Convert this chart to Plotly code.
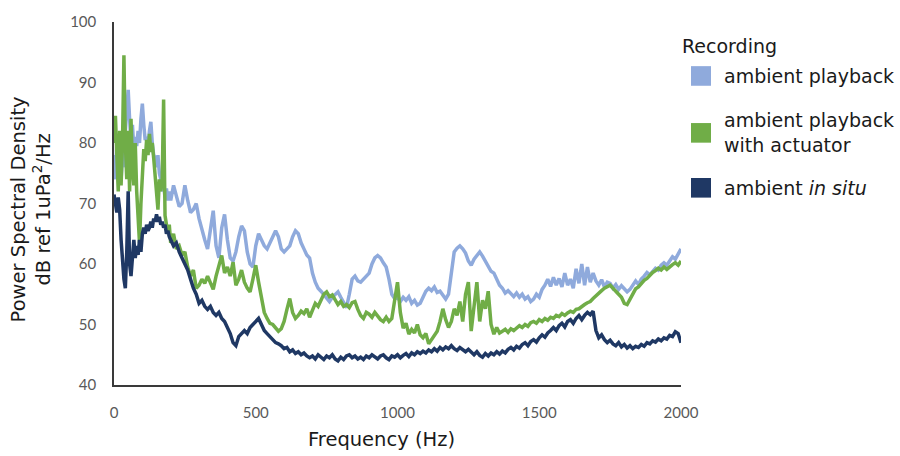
import plotly.graph_objects as go

# Frequency grid: 5 Hz steps below 200 Hz, 10 Hz steps from 200 to 2000 Hz
freq_low = list(range(0, 200, 5))
freq_high = list(range(200, 2001, 10))
freq = freq_low + freq_high

# Power spectral density (dB re 1 uPa^2/Hz)
playback_low = [
    78, 74, 80, 76, 79, 74, 78, 76, 82, 85,
    88.8, 84, 80, 83, 79, 81, 79.5, 82, 80, 84,
    86.5, 83, 80.5, 81, 79.5, 82, 83.5, 80, 78, 77.5,
    76, 78, 75, 74, 72, 73, 71, 72.5, 70.5, 72,
]
playback_high = [
    70.5, 73, 71, 69.5, 70, 73, 70.5, 68.5, 69, 70,
    67.5, 65.5, 64, 62.5, 66, 68.8, 63, 61, 66, 68.2,
    64, 61, 60.5, 62, 64.5, 66.3, 65.5, 62, 60, 59.5,
    63, 65, 64, 63, 62.5, 63.5, 64.5, 65.5, 64.5, 62.5,
    62, 62.5, 63, 64.5, 65.5, 65, 63.5, 62.5, 61.5, 61,
    58.5, 57, 56, 55.5, 55, 54.5, 53.8, 54.5, 55, 55.4,
    54.5, 53.5, 52.8, 55, 57.5, 58, 57.2, 57, 57.5, 57.8,
    58.5, 60, 61, 61.4, 61, 60.2, 59.5, 57.5, 55, 54.3,
    54.5, 53.8, 54.5, 54, 54.6, 53.5, 54, 53.2, 53.5, 54.5,
    55.5, 56, 55.6, 56.2, 55.3, 55.5, 54.8, 54.2, 55, 59,
    62, 62.6, 63, 62.5, 61.8, 60.5, 59.8, 60.8, 61.5, 62,
    61.3, 60.5, 59.8, 58.8, 58.5, 57.5, 56.5, 56, 55.2, 55.6,
    55, 54.6, 55.2, 54.5, 55, 54.2, 54.6, 53.8, 54.2, 55,
    54.5, 55.8, 56.5, 57.5, 56.3, 57.8, 56.5, 57.6, 56.2, 58.5,
    56.5, 57.5, 56, 59.2, 56.8, 60, 56.5, 59.5, 57, 58.5,
    57.2, 56.5, 57.4, 56.2, 57, 56.8, 56, 56.6, 55.8, 56.4,
    55.9, 55.4, 55.8, 56.5, 57.2, 56.6, 57.5, 58, 58.6, 58.2,
    58.8, 59.3, 59, 59.8, 60.2, 59.8, 60.5, 61.2, 60.8, 61.8,
    62.5,
]

actuator_low = [
    80, 84.5, 78, 72, 82, 73, 80, 94.5, 80, 74,
    82, 72, 84, 76, 73, 80, 72, 67, 63.5, 70,
    74, 79, 77, 80.5, 78, 81.5, 78.5, 80, 77.5, 74,
    71, 69, 74, 72, 74, 87.2, 68, 66, 65, 66.5,
]
actuator_high = [
    63.5, 65, 62.5, 63, 61.5, 62, 59.5, 58, 59, 56,
    56.5, 57.5, 56.8, 58, 57, 55.8, 58, 59.5, 61.4, 58.5,
    59.5, 58, 60.3, 56.5, 57.5, 59, 57, 56, 55.4, 57.5,
    59.8, 57, 54.3, 52, 51, 50.2, 50, 49.5, 48.9, 49.3,
    50.5, 52.5, 54.3, 52, 51, 51.5, 52.2, 51.8, 52.6, 51.2,
    52.5, 53.5, 53, 54.2, 55, 55.4, 54.6, 54.9, 54, 53.3,
    53.8, 53, 53.3, 52.8, 53.6, 53.8, 52.5, 51.5, 51, 52,
    51.7, 51.2, 52, 51.4, 50.8, 50.5, 51.2, 50.5, 51, 54,
    57, 52, 49.4, 50.2, 48.4, 49.2, 48.6, 50, 48.3, 47.8,
    48.5, 46.8, 47.5, 48.2, 48.9, 50.5, 52.6, 50.8, 49.5, 50.5,
    52.6, 51.5, 53.8, 50.5, 55, 57, 48.9, 53, 57, 50.5,
    54, 52.6, 55.5, 50, 48.4, 49.5, 48.6, 48.9, 49.2, 48.7,
    49.3, 49, 49.4, 49.8, 49.5, 50, 49.7, 50.3, 50.5, 50.2,
    50.8, 50.5, 51, 50.7, 51.2, 51, 51.5, 51.3, 51.8, 51.5,
    51.9, 52.2, 52, 52.5, 52.6, 53, 53.3, 53.6, 53.8, 54.3,
    54.8, 55.3, 55.6, 56, 56.3, 56.5, 56, 55.4, 55, 54.5,
    53.5, 53.3, 54.2, 55, 55.9, 56.2, 56.8, 57.3, 57.6, 58.2,
    58.6, 58.9, 59.3, 59, 59.5, 59.1, 59.6, 59.9, 60.2, 59.8,
    60.5,
]

in_situ_low = [
    71.5, 70, 68.5, 71, 69, 64, 60, 57.5, 56, 62,
    72, 60, 58, 62, 64, 61, 63, 61.5, 64, 62,
    65, 66, 65, 66.5, 65.5, 66, 67, 66, 67.5, 67,
    68.2, 67, 67.8, 66.5, 67, 66, 66.5, 65, 65.5, 64.5,
]
in_situ_high = [
    64, 63, 63.5, 62, 61, 60, 59, 57.5, 56, 55,
    53.5, 54, 53, 52.5, 53, 52, 51.5, 52, 51, 50.5,
    49.5, 48.5, 47, 46.5, 48, 48.5, 49, 48.5, 49.5, 50,
    50.5, 51, 50, 49, 48.5, 48, 47.5, 47, 46.8, 46.5,
    46, 46.2, 45.5, 45.8, 45.2, 45.5, 45, 45.3, 44.8, 44.5,
    44.8, 44.3, 45, 44.5, 44.2, 44.8, 44.5, 45, 44.3, 44,
    44.6, 44.2, 44.8, 45, 44.5, 44.8, 44.3, 44.6, 44.2, 44.8,
    44.5, 45, 44.6, 44.3, 44.8, 45, 44.5, 44.2, 44.8, 44.6,
    45, 44.5, 44.9, 45.2, 44.7, 45.3, 45, 45.5, 45.2, 45.6,
    45.3, 45.8, 45.5, 46, 45.6, 46.2, 45.8, 46.3, 46, 46.5,
    46, 45.7, 46.2, 45.8, 45.5, 45.9, 45.4, 45, 45.5, 44.9,
    44.6, 45.2, 44.8, 45.3, 45, 45.5, 45.1, 45.6, 45.3, 45.9,
    46.2, 45.8, 46.4, 46.1, 46.7, 47, 46.5, 47.2, 47.5, 47.1,
    47.8, 48.3, 47.9, 48.6, 49, 49.5, 49, 49.8, 50.2, 49.6,
    50.5, 50.8, 50.2, 51, 51.5, 50.8, 51.5, 52, 51.6, 52.2,
    49, 47.8, 48.3, 47.5, 47, 47.4, 46.8, 46.5, 47, 46.3,
    46.7, 46.1, 46.5, 46, 46.4, 46.2, 46.7, 46.4, 47, 46.8,
    47.3, 47.1, 47.6, 47.3, 47.8, 47.6, 48.2, 48, 48.8, 48.5,
    47,
]

series_names = ["ambient playback", "ambient playback<br>with actuator", "ambient <i>in situ</i>"]
series_values = [
    playback_low + playback_high,
    actuator_low + actuator_high,
    in_situ_low + in_situ_high,
]
series_colors = ["#8FAADC", "#70AD47", "#1F3864"]

x_ticks = [0, 500, 1000, 1500, 2000]
y_ticks = [40, 50, 60, 70, 80, 90, 100]

fig = go.Figure()
for name, vals, color in zip(series_names, series_values, series_colors):
    fig.add_trace(go.Scatter(
        x=freq, y=vals, mode="lines", name=name,
        line=dict(color=color, width=3.5), showlegend=False,
    ))

# Plot area geometry (pixels) used for the hand-placed legend and titles
L, R, T, B = 114, 681, 15, 385
W, H = 900, 456


def px(x):
    return (x - L) / (R - L)


def py(y):
    return (B - y) / (B - T)


shapes = []
annotations = []
legend_font = dict(family="DejaVu Sans", size=19, color="#1a1a1a")
title_font = dict(family="DejaVu Sans", size=19.5, color="#1a1a1a")

annotations.append(dict(
    x=px(680), y=py(39), xref="paper", yref="paper", text="Recording",
    showarrow=False, xanchor="left", yanchor="middle", font=legend_font,
))
legend_rows = [70, 128, 184]
for row_y, name, color in zip(legend_rows, series_names, series_colors):
    shapes.append(dict(
        type="rect", xref="paper", yref="paper",
        x0=px(691), x1=px(711), y0=py(row_y - 10), y1=py(row_y + 10),
        fillcolor=color, line=dict(width=0),
    ))
    annotations.append(dict(
        x=px(722), y=py(row_y), xref="paper", yref="paper", text=name,
        showarrow=False, xanchor="left", yanchor="middle", align="left",
        font=legend_font,
    ))

# Axis titles
annotations.append(dict(
    x=px(381), y=py(441), xref="paper", yref="paper", text="Frequency (Hz)",
    showarrow=False, xanchor="center", yanchor="middle", font=title_font,
))
annotations.append(dict(
    x=px(31), y=py(206), xref="paper", yref="paper",
    text="Power Spectral Density<br>dB ref 1uPa<sup>2</sup>/Hz",
    showarrow=False, xanchor="center", yanchor="middle", textangle=-90,
    font=title_font,
))

tick_font = dict(family="Lato", size=15, color="#595959")

fig.update_layout(
    width=W, height=H,
    margin=dict(l=L, r=W - R, t=T, b=H - B),
    paper_bgcolor="white", plot_bgcolor="white",
    shapes=shapes, annotations=annotations,
    showlegend=False,
    xaxis=dict(
        range=[0, 2000], tickvals=x_ticks, ticktext=[str(v) for v in x_ticks],
        showgrid=False, zeroline=False, showline=True,
        linecolor="#3a3a3a", linewidth=1.5, ticks="",
        ticklabelstandoff=13, tickfont=tick_font,
    ),
    yaxis=dict(
        range=[40, 100], tickvals=y_ticks, ticktext=[str(v) for v in y_ticks],
        showgrid=False, zeroline=False, showline=True,
        linecolor="#3a3a3a", linewidth=1.5, ticks="",
        ticklabelstandoff=13, tickfont=tick_font,
    ),
)

fig.write_html("out.html")
